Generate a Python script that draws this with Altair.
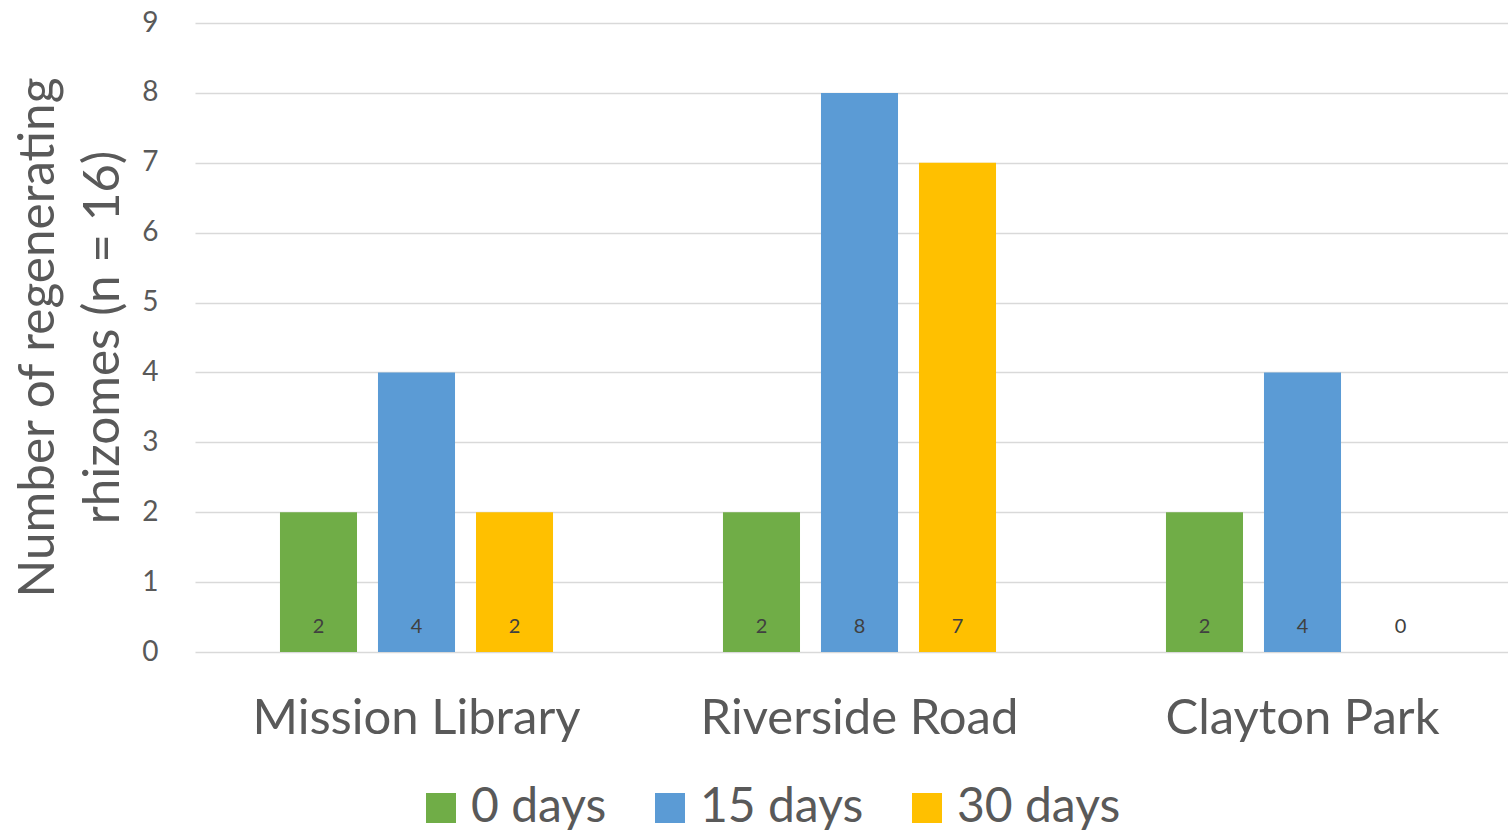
import altair as alt
import pandas as pd

sites = ["Mission Library", "Riverside Road", "Clayton Park"]
periods = ["0 days", "15 days", "30 days"]
counts_0 = [2, 2, 2]
counts_15 = [4, 8, 4]
counts_30 = [2, 7, 0]
colors = ["#70ad47", "#5b9bd5", "#ffc000"]

rows = []
for series, vals in zip(periods, [counts_0, counts_15, counts_30]):
    for site, v in zip(sites, vals):
        rows.append({"site": site, "period": series, "count": v})
df = pd.DataFrame(rows)

FONT = "Lato"
GREY = "#595959"

x_enc = alt.X(
    "site:N",
    sort=sites,
    scale=alt.Scale(paddingInner=0, paddingOuter=0, range=[0, 1329]),
    axis=alt.Axis(
        title=None, labelAngle=0, labelFontSize=49, labelColor=GREY, labelFont=FONT,
        ticks=False, domain=False, grid=False, labelPadding=42, labelLimit=0,
    ),
)
xoff_enc = alt.XOffset(
    "period:N", sort=periods,
    scale=alt.Scale(paddingInner=0.214, paddingOuter=0.867),
)

bars = alt.Chart(df).mark_bar().encode(
    x=x_enc,
    xOffset=xoff_enc,
    y=alt.Y(
        "count:Q",
        scale=alt.Scale(domain=[0, 9], nice=False),
        axis=alt.Axis(
            values=list(range(10)), format="d",
            title=["Number of regenerating", "rhizomes (n = 16)"],
            titleFontSize=49.5, titleFont=FONT, titleColor=GREY, titleFontWeight="normal",
            titleLineHeight=65, titleX=-157, titleY=314, titleAngle=-90,
            titleAlign="center", titleBaseline="middle",
            labelFontSize=28, labelFont=FONT, labelColor=GREY, labelPadding=37,
            ticks=False, domain=False, gridColor="#d9d9d9", gridWidth=1.5,
        ),
    ),
    color=alt.Color(
        "period:N", sort=periods,
        scale=alt.Scale(domain=periods, range=colors),
        legend=alt.Legend(
            title=None, orient="none", direction="horizontal",
            legendX=222, legendY=761,
            symbolType="square", symbolSize=900, symbolStrokeWidth=0,
            labelFontSize=48, labelFont=FONT, labelColor=GREY, labelOffset=6,
            labelLimit=0, columnPadding=39,
        ),
    ),
)

labels = alt.Chart(df).mark_text(
    fontSize=20, font=FONT, color="#404040", dy=-25, baseline="middle",
).encode(
    x=alt.X("site:N", sort=sites),
    xOffset=alt.XOffset("period:N", sort=periods),
    y=alt.datum(0),
    text="count:Q",
)

chart = alt.layer(bars, labels).properties(
    width=1313, height=629,
    background="white",
    autosize=alt.AutoSizeParams(type="none"),
    padding={"left": 195, "top": 23, "right": 0, "bottom": 181},
).configure_view(stroke=None)

chart.save("out.html", embed_options={"renderer": "svg", "actions": False})
